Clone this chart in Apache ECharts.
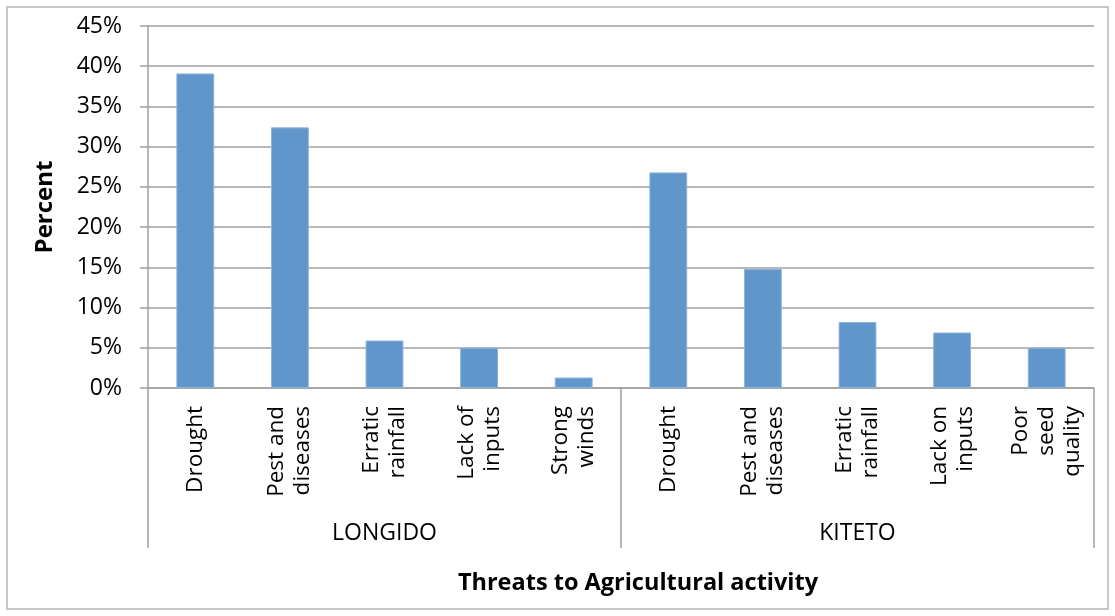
<!DOCTYPE html>
<html>
<head>
<meta charset="utf-8">
<script src="https://cdn.jsdelivr.net/npm/echarts@6/dist/echarts.min.js"></script>
<style>
html,body{margin:0;padding:0;background:#fff;}
#c{width:1115px;height:616px;}
</style>
</head>
<body>
<div id="c"></div>
<script>
var categories = ['Drought','Pest and\ndiseases','Erratic\nrainfall','Lack of\ninputs','Strong\nwinds',
                  'Drought','Pest and\ndiseases','Erratic\nrainfall','Lack on\ninputs','Poor\nseed\nquality'];
var groups = ['LONGIDO','KITETO'];
var values = [0.391, 0.324, 0.059, 0.050, 0.013, 0.268, 0.148, 0.082, 0.069, 0.050];
var yTicks = {min: 0, max: 0.45, interval: 0.05};
var yTitle = 'Percent';
var xTitle = 'Threats to Agricultural activity';

var FONT = '"Open Sans", sans-serif';
var GRAY = '#a0a0a0';
var chart = echarts.init(document.getElementById('c'), null, {renderer: 'canvas'});
chart.setOption({
  backgroundColor: '#fff',
  animation: false,
  grid: {left: 148, right: 21, top: 26, bottom: 228, containLabel: false},
  graphic: [
    {type: 'rect', shape: {x: 7, y: 7, width: 1101, height: 602},
     style: {fill: 'none', stroke: '#b5b5b5', lineWidth: 1.5}, z: -1},
    {type: 'text', x: 638, y: 583,
     style: {text: xTitle, font: 'bold 23.5px ' + FONT, fill: '#000', textAlign: 'center', textVerticalAlign: 'middle'}}
  ],
  xAxis: [
    {
      type: 'category', data: categories, position: 'bottom',
      axisLine: {show: true, lineStyle: {color: GRAY, width: 1.5}},
      axisTick: {show: false},
      axisLabel: {interval: 0, rotate: 90, margin: 18, color: '#000', fontFamily: FONT, fontSize: 22.5, lineHeight: 26, align: 'right'},
      splitLine: {show: false}
    },
    {
      type: 'category', data: groups, position: 'bottom',
      axisLine: {show: false},
      axisTick: {show: true, interval: 0, length: 160, lineStyle: {color: GRAY, width: 1.5}},
      axisLabel: {interval: 0, margin: 134, color: '#000', fontFamily: FONT, fontSize: 23},
      splitLine: {show: false}
    }
  ],
  yAxis: {
    type: 'value', min: yTicks.min, max: yTicks.max, interval: yTicks.interval,
    name: yTitle, nameLocation: 'middle', nameGap: 91, nameRotate: 90,
    nameTextStyle: {color: '#000', fontFamily: FONT, fontSize: 24, fontWeight: 'bold'},
    axisLine: {show: true, lineStyle: {color: GRAY, width: 1.5}},
    axisTick: {show: true, length: 8, lineStyle: {color: GRAY, width: 1.5}},
    axisLabel: {color: '#000', fontFamily: FONT, fontSize: 23, margin: 26,
      formatter: function (v) { return Math.round(v * 100) + '%'; }},
    splitLine: {show: true, lineStyle: {color: GRAY, width: 1.5}}
  },
  series: [{
    type: 'bar', xAxisIndex: 0, data: values, barWidth: '40%',
    itemStyle: {color: '#6096c9', borderColor: '#8db3dc', borderWidth: 1}
  }]
});
</script>
</body>
</html>
